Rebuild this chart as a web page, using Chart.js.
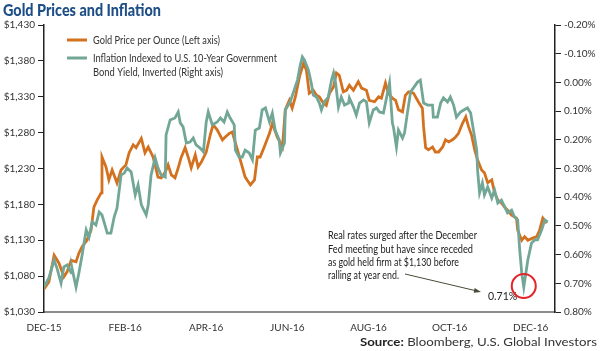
<!DOCTYPE html>
<html>
<head>
<meta charset="utf-8">
<script src="https://cdn.jsdelivr.net/npm/chart.js@4.4.1/dist/chart.umd.min.js"></script>
<style>
  html, body { margin: 0; padding: 0; background: #fff; }
  canvas { display: block; }
</style>
</head>
<body>
<canvas id="chart" width="600" height="351"></canvas>
<script>
/* ---------- data (x in months from DEC-15) ---------- */
const xLabels = ["DEC-15","FEB-16","APR-16","JUN-16","AUG-16","OCT-16","DEC-16"];
const xTickMonths = [0,2,4,6,8,10,12];

const goldMonths = [0.00,0.12,0.25,0.37,0.49,0.57,0.67,0.79,0.86,0.94,
  1.06,1.16,1.23,1.31,1.41,1.43,1.53,1.60,1.68,1.80,
  1.90,2.02,2.10,2.20,2.27,2.40,2.49,2.57,2.69,2.81,
  2.89,2.99,3.06,3.14,3.23,3.31,3.38,3.48,3.56,3.63,
  3.73,3.80,3.88,4.00,4.10,4.17,4.27,4.40,4.47,4.57,
  4.64,4.77,4.89,4.96,5.09,5.19,5.26,5.33,5.43,5.56,
  5.63,5.75,5.88,5.95,6.05,6.12,6.20,6.30,6.40,6.47,
  6.54,6.64,6.72,6.79,6.89,6.96,7.04,7.14,7.21,7.28,
  7.38,7.46,7.53,7.63,7.75,7.83,7.95,8.02,8.15,8.25,
  8.32,8.42,8.49,8.59,8.67,8.74,8.84,8.91,8.99,9.11,
  9.23,9.33,9.36,9.41,9.48,9.58,9.65,9.73,9.83,9.90,
  9.98,10.07,10.15,10.22,10.32,10.40,10.47,10.54,10.62,10.69,
  10.79,10.86,10.94,11.04,11.11,11.19,11.28,11.36,11.43,11.53,
  11.65,11.68,11.78,11.85,11.93,12.05,12.15,12.22,12.30,12.40];
const goldPrice = [1062,1072,1109,1098,1079,1086,1102,1100,1112,1121,
  1130,1144,1176,1186,1196,1246,1232,1214,1228,1210,
  1228,1235,1252,1263,1259,1272,1252,1260,1246,1218,
  1217,1225,1235,1221,1217,1231,1245,1259,1245,1231,
  1249,1232,1239,1253,1277,1291,1284,1270,1274,1279,
  1281,1256,1232,1218,1207,1214,1246,1246,1260,1279,
  1293,1274,1260,1312,1325,1314,1330,1358,1377,1367,
  1335,1339,1332,1330,1321,1318,1335,1344,1363,1360,
  1337,1339,1346,1339,1351,1342,1339,1325,1323,1330,
  1328,1349,1335,1328,1325,1312,1309,1332,1337,1335,
  1323,1314,1288,1259,1256,1260,1253,1253,1260,1270,
  1267,1270,1274,1279,1293,1302,1288,1277,1256,1242,
  1228,1224,1210,1214,1196,1186,1182,1176,1172,1165,
  1161,1144,1130,1135,1130,1133,1135,1144,1161,1154];

const tipsMonths = [0.00,0.12,0.25,0.32,0.42,0.49,0.57,0.67,0.69,0.79,
  0.86,0.94,1.04,1.11,1.19,1.28,1.36,1.43,1.48,1.56,
  1.65,1.73,1.80,1.90,1.98,2.05,2.15,2.25,2.32,2.40,
  2.52,2.57,2.64,2.74,2.81,2.89,2.99,3.01,3.11,3.23,
  3.31,3.36,3.43,3.51,3.60,3.68,3.75,3.85,3.93,4.00,
  4.05,4.15,4.27,4.35,4.44,4.52,4.59,4.69,4.72,4.81,
  4.89,4.96,5.06,5.14,5.21,5.31,5.38,5.46,5.56,5.63,
  5.70,5.80,5.83,5.93,5.95,6.07,6.17,6.25,6.32,6.37,
  6.42,6.52,6.59,6.64,6.72,6.79,6.84,6.91,7.01,7.09,
  7.14,7.19,7.26,7.33,7.41,7.51,7.53,7.63,7.70,7.78,
  7.88,7.95,8.02,8.12,8.20,8.27,8.37,8.47,8.52,8.59,
  8.62,8.69,8.74,8.84,8.89,8.96,9.04,9.11,9.21,9.28,
  9.36,9.46,9.58,9.60,9.70,9.78,9.85,9.95,10.02,10.10,
  10.17,10.27,10.35,10.44,10.52,10.67,10.69,10.74,10.81,10.86,
  10.94,11.04,11.11,11.19,11.28,11.36,11.43,11.53,11.60,11.68,
  11.73,11.78,11.83,11.93,12.02,12.10,12.17,12.27,12.35,12.42];
const tipsYield = [0.713,0.681,0.619,0.647,0.699,0.643,0.636,0.664,0.647,0.713,
  0.664,0.601,0.514,0.539,0.486,0.497,0.452,0.462,0.486,0.525,
  0.525,0.469,0.438,0.323,0.316,0.298,0.312,0.392,0.357,0.427,
  0.462,0.427,0.323,0.263,0.298,0.323,0.330,0.183,0.131,0.124,
  0.103,0.141,0.155,0.211,0.208,0.194,0.218,0.229,0.242,0.138,
  0.103,0.148,0.138,0.124,0.138,0.103,0.124,0.148,0.236,0.260,
  0.260,0.236,0.246,0.270,0.166,0.159,0.096,0.089,0.138,0.107,
  0.166,0.201,0.246,0.211,0.096,0.068,0.026,-0.008,-0.061,-0.089,
  -0.078,-0.043,0.002,0.044,0.051,0.072,0.096,0.068,0.051,-0.008,
  -0.033,0.002,0.086,0.051,0.079,0.072,0.054,0.086,0.114,0.072,
  0.061,0.068,0.141,0.096,0.089,0.103,0.107,0.037,0.002,0.141,
  0.159,0.225,0.166,0.194,0.176,0.107,0.033,0.019,-0.001,-0.008,
  0.072,0.079,0.079,0.121,0.121,0.072,0.054,0.068,0.051,0.079,
  0.121,0.103,0.096,0.089,0.107,0.236,0.305,0.385,0.350,0.392,
  0.364,0.403,0.375,0.420,0.410,0.434,0.455,0.445,0.469,0.479,
  0.584,0.664,0.713,0.619,0.560,0.549,0.549,0.514,0.479,0.486];

const noteLines = ["Real rates surged after the December",
  "Fed meeting but have since receded",
  "as gold held firm at $1,130 before",
  "ralling at year end."];
const noteWidths = [149, 145, 131, 71];

/* ---------- look ---------- */
const GOLD = '#d4711f';
const TIPS = '#72a797';
const FONT = 'Lato, "Open Sans", sans-serif';

// text with optional squeeze to a target width
function drawText(ctx, s, x, y, o) {
  ctx.save();
  ctx.font = o.font;
  ctx.fillStyle = o.color || '#333';
  ctx.textBaseline = 'middle';
  ctx.textAlign = o.align || 'left';
  const w = ctx.measureText(s).width;
  ctx.translate(x, y);
  if (o.width) ctx.scale(o.width / w, 1);
  ctx.fillText(s, 0, 0);
  ctx.restore();
}

const overlay = {
  id: 'overlay',
  afterDraw(chart) {
    const ctx = chart.ctx;
    const {x, y2} = chart.scales;

    drawText(ctx, 'Gold Prices and Inflation', 3, 11,
      {font: '900 16px ' + FONT, color: '#1d4e86', width: 158});

    // legend
    ctx.save();
    ctx.lineWidth = 3;
    ctx.strokeStyle = GOLD;
    ctx.beginPath(); ctx.moveTo(67, 40); ctx.lineTo(87, 40); ctx.stroke();
    ctx.strokeStyle = TIPS;
    ctx.beginPath(); ctx.moveTo(67, 58); ctx.lineTo(87, 58); ctx.stroke();
    ctx.restore();
    const lf = '11px ' + FONT;
    drawText(ctx, 'Gold Price per Ounce (Left axis)', 93, 40, {font: lf, width: 127});
    drawText(ctx, 'Inflation Indexed to U.S. 10-Year Government', 93, 58, {font: lf, width: 184});
    drawText(ctx, 'Bond Yield, Inverted (Right axis)', 93, 72, {font: lf, width: 130});

    // note
    noteLines.forEach((s, i) => {
      drawText(ctx, s, 328, 236 + i * 13.3, {font: '10.5px ' + FONT, color: '#222', width: noteWidths[i]});
    });

    // arrow to the low
    const ax0 = 405, ay0 = 274, ax1 = 481, ay1 = 292;
    ctx.save();
    ctx.strokeStyle = '#4a4a38';
    ctx.fillStyle = '#4a4a38';
    ctx.lineWidth = 1;
    ctx.beginPath(); ctx.moveTo(ax0, ay0); ctx.lineTo(ax1 - 4, ay1 - 1); ctx.stroke();
    const ang = Math.atan2(ay1 - ay0, ax1 - ax0);
    ctx.translate(ax1, ay1); ctx.rotate(ang);
    ctx.beginPath(); ctx.moveTo(0, 0); ctx.lineTo(-7, -2.5); ctx.lineTo(-7, 2.5); ctx.closePath(); ctx.fill();
    ctx.restore();

    drawText(ctx, '0.71%', 488, 297, {font: '10.5px ' + FONT, color: '#222'});

    // circle round the December low
    let lo = -1;
    tipsYield.forEach((v, i) => {
      if (tipsMonths[i] > 11 && (lo < 0 || v > tipsYield[lo])) lo = i;
    });
    ctx.save();
    ctx.strokeStyle = '#e4232b';
    ctx.lineWidth = 2;
    ctx.beginPath();
    ctx.arc(x.getPixelForValue(tipsMonths[lo]), y2.getPixelForValue(tipsYield[lo]) - 1, 12, 0, Math.PI * 2);
    ctx.stroke();
    ctx.restore();

    // source
    ctx.save();
    ctx.font = 'bold 11px ' + FONT;
    const wb = ctx.measureText('Source:').width;
    ctx.font = '11px ' + FONT;
    const wr = ctx.measureText(' Bloomberg, U.S. Global Investors').width;
    const k = 237 / (wb + wr);
    ctx.translate(597 - 237, 342);
    ctx.scale(k, 1);
    ctx.textBaseline = 'middle';
    ctx.fillStyle = '#222';
    ctx.font = 'bold 11px ' + FONT;
    ctx.fillText('Source:', 0, 0);
    ctx.fillStyle = '#333';
    ctx.font = '11px ' + FONT;
    ctx.fillText(' Bloomberg, U.S. Global Investors', wb, 0);
    ctx.restore();
  }
};

const tickFont = {family: FONT, size: 10};

new Chart(document.getElementById('chart'), {
  type: 'line',
  data: {
    datasets: [
      {label: 'Inflation Indexed to U.S. 10-Year Government Bond Yield, Inverted (Right axis)',
       data: tipsMonths.map((m, i) => ({x: m, y: tipsYield[i]})),
       yAxisID: 'y2', borderColor: TIPS, borderWidth: 2.8, pointRadius: 0, tension: 0},
      {label: 'Gold Price per Ounce (Left axis)',
       data: goldMonths.map((m, i) => ({x: m, y: goldPrice[i]})),
       yAxisID: 'y', borderColor: GOLD, borderWidth: 2.8, pointRadius: 0, tension: 0}
    ]
  },
  options: {
    responsive: false,
    animation: false,
    layout: {padding: {top: 25, left: 0, right: 0, bottom: 0}},
    plugins: {legend: {display: false}, tooltip: {enabled: false}},
    scales: {
      x: {
        type: 'linear', min: 0, max: 12.6,
        afterBuildTicks: s => { s.ticks = xTickMonths.map(v => ({value: v})); },
        afterFit: s => { s.height = 39; },
        grid: {display: false},
        border: {color: '#8c8c8c', width: 2},
        ticks: {font: tickFont, color: '#333', padding: 2, maxRotation: 0, autoSkip: false,
                callback: (v, i) => xLabels[i]}
      },
      y: {
        position: 'left', min: 1030, max: 1430,
        afterFit: s => { s.width = 44; },
        grid: {drawOnChartArea: false, color: '#222', tickLength: 6},
        border: {color: '#222', width: 1.5},
        ticks: {stepSize: 50, font: tickFont, color: '#333', padding: 3,
                callback: v => '$' + v.toLocaleString('en-US')}
      },
      y2: {
        position: 'right', min: -0.2, max: 0.8, reverse: true,
        afterFit: s => { s.width = 45; },
        grid: {drawOnChartArea: false, color: '#222', tickLength: 6},
        border: {color: '#222', width: 1.5},
        ticks: {stepSize: 0.1, font: tickFont, color: '#333', padding: 3,
                callback: v => (Math.abs(v) < 1e-9 ? 0 : v).toFixed(2) + '%'}
      }
    }
  },
  plugins: [overlay]
});
</script>
</body>
</html>
